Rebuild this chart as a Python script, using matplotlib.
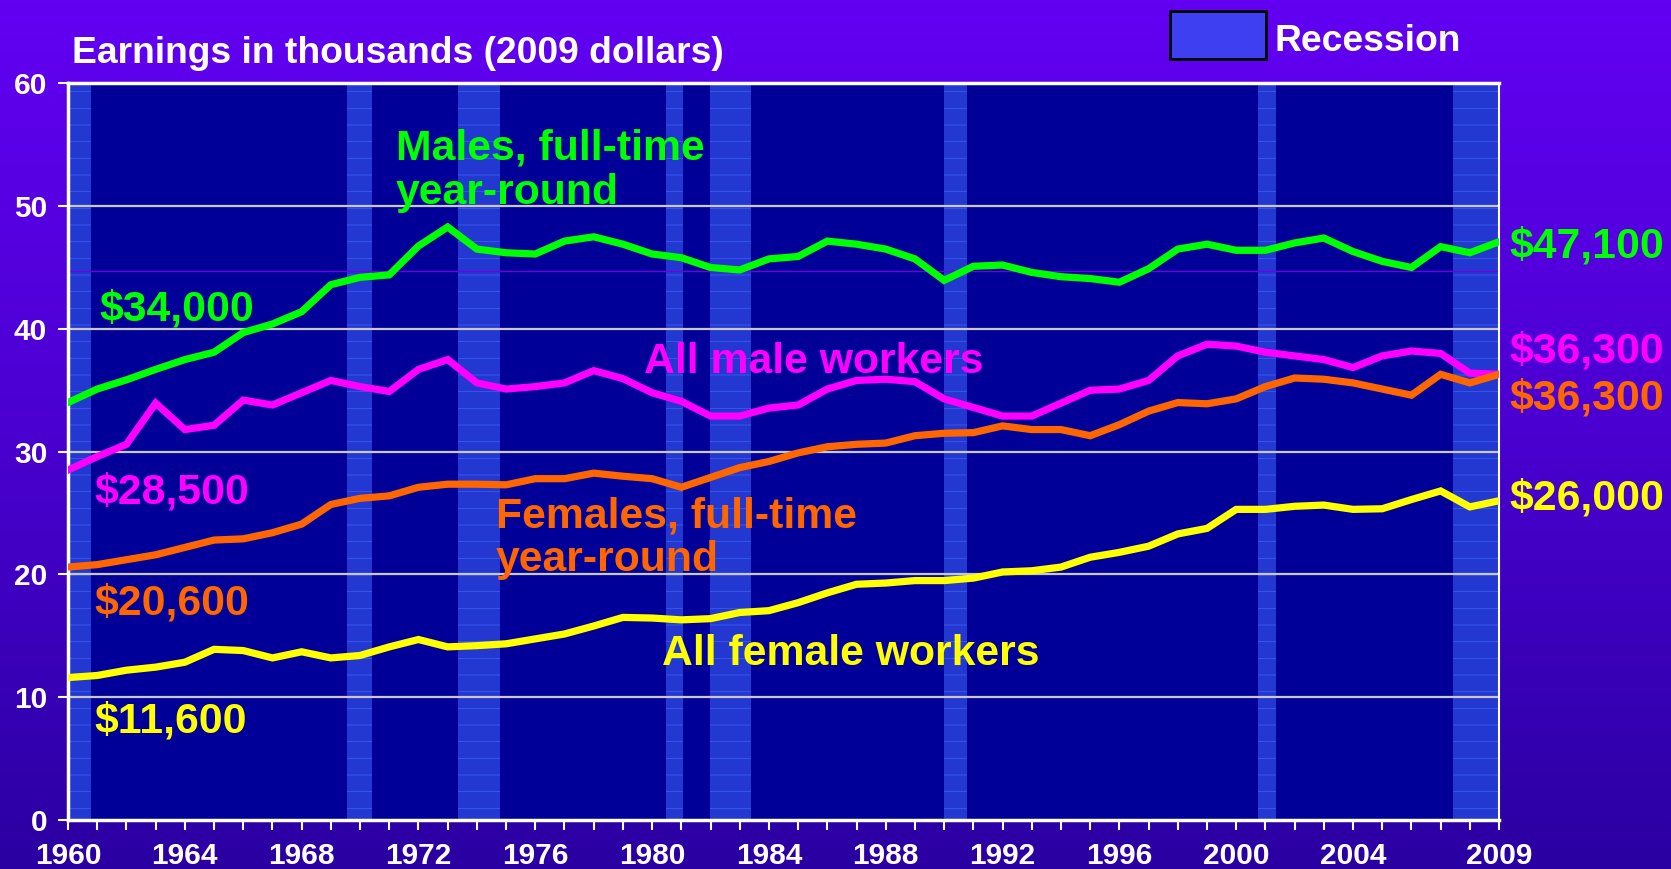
import numpy as np
import matplotlib
matplotlib.use('Agg')
import matplotlib.pyplot as plt
from matplotlib.patches import Rectangle
from matplotlib.colors import LinearSegmentedColormap

years = list(range(1960, 2010))

males_ft = [34.0, 35.1, 35.85, 36.7, 37.5, 38.1, 39.7, 40.4, 41.4, 43.6,
            44.2, 44.4, 46.75, 48.3, 46.5, 46.2, 46.1, 47.15, 47.5, 46.9,
            46.1, 45.8, 45.0, 44.8, 45.7, 45.9, 47.15, 46.9, 46.5, 45.7,
            43.95, 45.1, 45.2, 44.6, 44.25, 44.1, 43.8, 44.9, 46.5, 46.9,
            46.4, 46.4, 47.0, 47.4, 46.3, 45.5, 45.0, 46.7, 46.2, 47.1]

all_males = [28.5, 29.6, 30.6, 33.95, 31.8, 32.15, 34.2, 33.8, 34.8, 35.8,
             35.3, 34.9, 36.7, 37.5, 35.6, 35.1, 35.3, 35.6, 36.6, 35.95,
             34.8, 34.1, 32.9, 32.9, 33.55, 33.8, 35.1, 35.8, 35.9, 35.7,
             34.3, 33.6, 32.9, 32.9, 33.95, 35.0, 35.1, 35.8, 37.8, 38.75,
             38.6, 38.1, 37.8, 37.5, 36.85, 37.8, 38.2, 38.0, 36.4, 36.3]

females_ft = [20.6, 20.8, 21.2, 21.6, 22.2, 22.8, 22.9, 23.4, 24.1, 25.7,
              26.2, 26.4, 27.1, 27.35, 27.35, 27.3, 27.8, 27.8, 28.25, 28.0,
              27.8, 27.1, 27.9, 28.7, 29.2, 29.9, 30.4, 30.6, 30.7, 31.3,
              31.5, 31.55, 32.1, 31.8, 31.8, 31.3, 32.2, 33.3, 34.0, 33.9,
              34.3, 35.3, 36.0, 35.9, 35.6, 35.1, 34.6, 36.3, 35.6, 36.3]

all_females = [11.6, 11.77, 12.2, 12.45, 12.85, 13.9, 13.8, 13.2, 13.7, 13.2,
               13.4, 14.1, 14.7, 14.1, 14.2, 14.35, 14.75, 15.15, 15.8, 16.5,
               16.45, 16.3, 16.4, 16.9, 17.05, 17.7, 18.5, 19.2, 19.3, 19.5,
               19.5, 19.7, 20.2, 20.3, 20.6, 21.4, 21.8, 22.3, 23.3, 23.75,
               25.3, 25.3, 25.55, 25.65, 25.3, 25.35, 26.1, 26.8, 25.5, 26.0]

# recession bands (start, end) in year units
recessions = [(1960.0, 1960.8), (1969.55, 1970.42), (1973.36, 1974.78),
              (1980.48, 1981.05), (1981.98, 1983.37), (1989.98, 1990.79),
              (2000.75, 2001.36), (2007.42, 2009.0)]

xtick_years = [1960, 1964, 1968, 1972, 1976, 1980, 1984, 1988, 1992, 1996, 2000, 2004, 2009]

GREEN = '#00FF00'
MAGENTA = '#FF00FF'
ORANGE = '#FF6600'
YELLOW = '#FFFF00'

plt.rcParams['font.family'] = ['Liberation Sans', 'DejaVu Sans']
plt.rcParams['font.weight'] = 'bold'
plt.rcParams['hatch.linewidth'] = 0.6

fig = plt.figure(figsize=(16.71, 8.69), dpi=100)

# gradient background
bg = fig.add_axes([0, 0, 1, 1], zorder=-10)
cmap = LinearSegmentedColormap.from_list('bg', ['#6200F2', '#4A00D0', '#2A00A2'])
grad = np.linspace(0, 1, 256).reshape(-1, 1)
bg.imshow(grad, aspect='auto', cmap=cmap, extent=[0, 1, 0, 1])
bg.axis('off')

ax = fig.add_axes([0.0407, 0.0564, 0.8564, 0.8477])
ax.set_facecolor('#000099')

for r0, r1 in recessions:
    ax.axvspan(r0, r1, facecolor='#2238D0', edgecolor='#3A5CF0', hatch='-', lw=0, zorder=1)

for yv in [10, 20, 30, 40, 50, 60]:
    ax.axhline(yv, color='#C8C8C8', lw=1.6, zorder=2)
ax.axhline(44.7, color='#7000E0', lw=1.0, zorder=2)

ax.plot(years, males_ft, color=GREEN, lw=5.2, zorder=5, solid_joinstyle='miter')
ax.plot(years, all_males, color=MAGENTA, lw=5.2, zorder=5, solid_joinstyle='miter')
ax.plot(years, females_ft, color=ORANGE, lw=5.2, zorder=5, solid_joinstyle='miter')
ax.plot(years, all_females, color=YELLOW, lw=5.2, zorder=5, solid_joinstyle='miter')

ax.set_xlim(1960, 2009)
ax.set_ylim(0, 60)
ax.set_xticks(years, minor=True)
ax.set_xticks(xtick_years)
ax.set_yticks(range(0, 61, 10))
ax.tick_params(axis='both', which='both', colors='white', width=1.5, length=7)
ax.tick_params(axis='x', labelsize=21.5, pad=9)
ax.tick_params(axis='y', labelsize=21.5, pad=8)
for lab in ax.get_xticklabels() + ax.get_yticklabels():
    lab.set_fontweight('bold')
for s in ['left', 'bottom', 'top']:
    ax.spines[s].set_color('white')
    ax.spines[s].set_linewidth(2.5)
ax.spines['right'].set_color('white')
ax.spines['right'].set_linewidth(1.5)

big = dict(fontsize=30.8, fontweight='bold', va='center', ha='left', zorder=6)
ax.text(1971.23, 52.9, 'Males, full-time\nyear-round', color=GREEN, linespacing=1.13, **big)
ax.text(1961.06, 41.55, '$34,000', color=GREEN, **big)
ax.text(1979.73, 37.3, 'All male workers', color=MAGENTA, **big)
ax.text(1960.9, 26.7, '$28,500', color=MAGENTA, **big)
ax.text(1974.64, 22.95, 'Females, full-time\nyear-round', color=ORANGE, linespacing=1.13, **big)
ax.text(1960.9, 17.6, '$20,600', color=ORANGE, **big)
ax.text(1980.34, 13.55, 'All female workers', color=YELLOW, **big)
ax.text(1960.9, 8.05, '$11,600', color=YELLOW, **big)

ax.text(2009.35, 46.7, '$47,100', color=GREEN, clip_on=False, **big)
ax.text(2009.35, 38.15, '$36,300', color=MAGENTA, clip_on=False, **big)
ax.text(2009.35, 34.35, '$36,300', color=ORANGE, clip_on=False, **big)
ax.text(2009.35, 26.15, '$26,000', color=YELLOW, clip_on=False, **big)

fig.text(0.043, 0.938, 'Earnings in thousands (2009 dollars)', color='white',
         fontsize=26.8, fontweight='bold', va='center', ha='left')

fig.patches.append(Rectangle((0.700, 0.932), 0.0575, 0.0552, transform=fig.transFigure,
                             facecolor='#3F3FF2', edgecolor='black', lw=2))
fig.text(0.763, 0.952, 'Recession', color='white', fontsize=26.8, fontweight='bold',
         va='center', ha='left')

fig.savefig('out.png', dpi=100, facecolor=fig.get_facecolor())
